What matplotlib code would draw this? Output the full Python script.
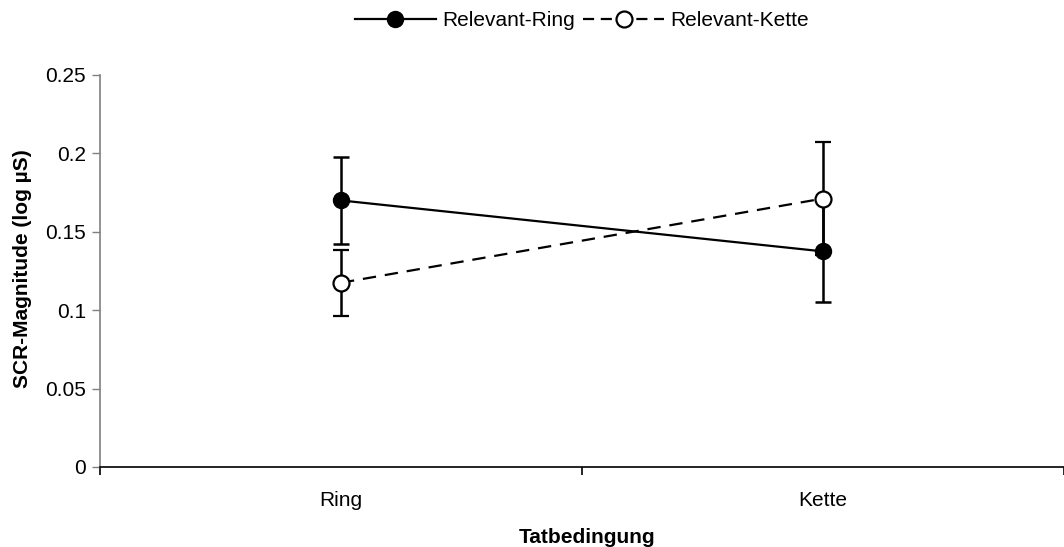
import matplotlib.pyplot as plt
from matplotlib.lines import Line2D

plt.rcParams['font.family'] = ['Liberation Sans', 'DejaVu Sans']

conditions = ['Ring', 'Kette']
ring_mean = [0.170, 0.1375]
ring_err = [0.028, 0.0325]
kette_mean = [0.1175, 0.1712]
kette_err = [0.021, 0.036]

fig = plt.figure(figsize=(10.64, 5.47), dpi=100)
ax = fig.add_axes([100 / 1064, 1 - 467 / 547, 964 / 1064, 392 / 547])

xpos = [0.5, 1.5]
dash = (0, (6, 4))

ax.errorbar(xpos, ring_mean, yerr=ring_err, color='black', lw=1.6,
            marker='o', ms=11.5, mfc='black', mec='black',
            capsize=6, capthick=1.8, elinewidth=1.8, zorder=3)
ax.errorbar(xpos, kette_mean, yerr=kette_err, color='black', lw=1.6,
            ls=dash, marker='o', ms=11.5, mfc='white', mec='black',
            mew=1.6, capsize=6, capthick=1.8, elinewidth=1.8, zorder=4)

ax.set_xlim(0, 964 / 485)
ax.set_ylim(0, 0.25)
ax.set_yticks([0, 0.05, 0.1, 0.15, 0.2, 0.25])
ax.set_yticklabels(['0', '0.05', '0.1', '0.15', '0.2', '0.25'])
ax.set_xticks([0, 1, 2])
ax.set_xticks(xpos, minor=True)
ax.set_xticklabels(['', '', ''])
ax.set_xticklabels(conditions, minor=True)
ax.tick_params(axis='x', which='minor', length=0, pad=17, labelsize=15)
ax.tick_params(axis='x', which='major', length=6, width=1.2, direction='out')
ax.tick_params(axis='y', length=6, width=1.0, direction='out', labelsize=15, pad=4,
               color='#808080')

for side in ['top', 'right']:
    ax.spines[side].set_visible(False)
ax.spines['left'].set_color('#808080')
ax.spines['left'].set_linewidth(1.2)
ax.spines['bottom'].set_color('black')
ax.spines['bottom'].set_linewidth(1.2)

ax.set_ylabel('SCR-Magnitude (log µS)', fontsize=15, fontweight='bold')
ax.yaxis.set_label_coords(-0.0705, 0.506)
ax.set_xlabel('Tatbedingung', fontsize=15, fontweight='bold')
ax.xaxis.set_label_coords(0.505, -0.155)

handles = [
    Line2D([], [], color='black', lw=1.6, marker='o', ms=11.5, mfc='black'),
    Line2D([], [], color='black', lw=1.6, ls=(0, (5, 3)), marker='o', ms=11.5,
           mfc='white', mew=1.6),
]
labels = ['Relevant-Ring', 'Relevant-Kette']
fig.legend(handles, labels, loc='center', bbox_to_anchor=(0.547, 1 - 21 / 547),
           ncol=2, frameon=False, fontsize=15, handlelength=3.9,
           handletextpad=0.3, columnspacing=0.4, borderpad=0)

fig.savefig('out.png', dpi=100)
